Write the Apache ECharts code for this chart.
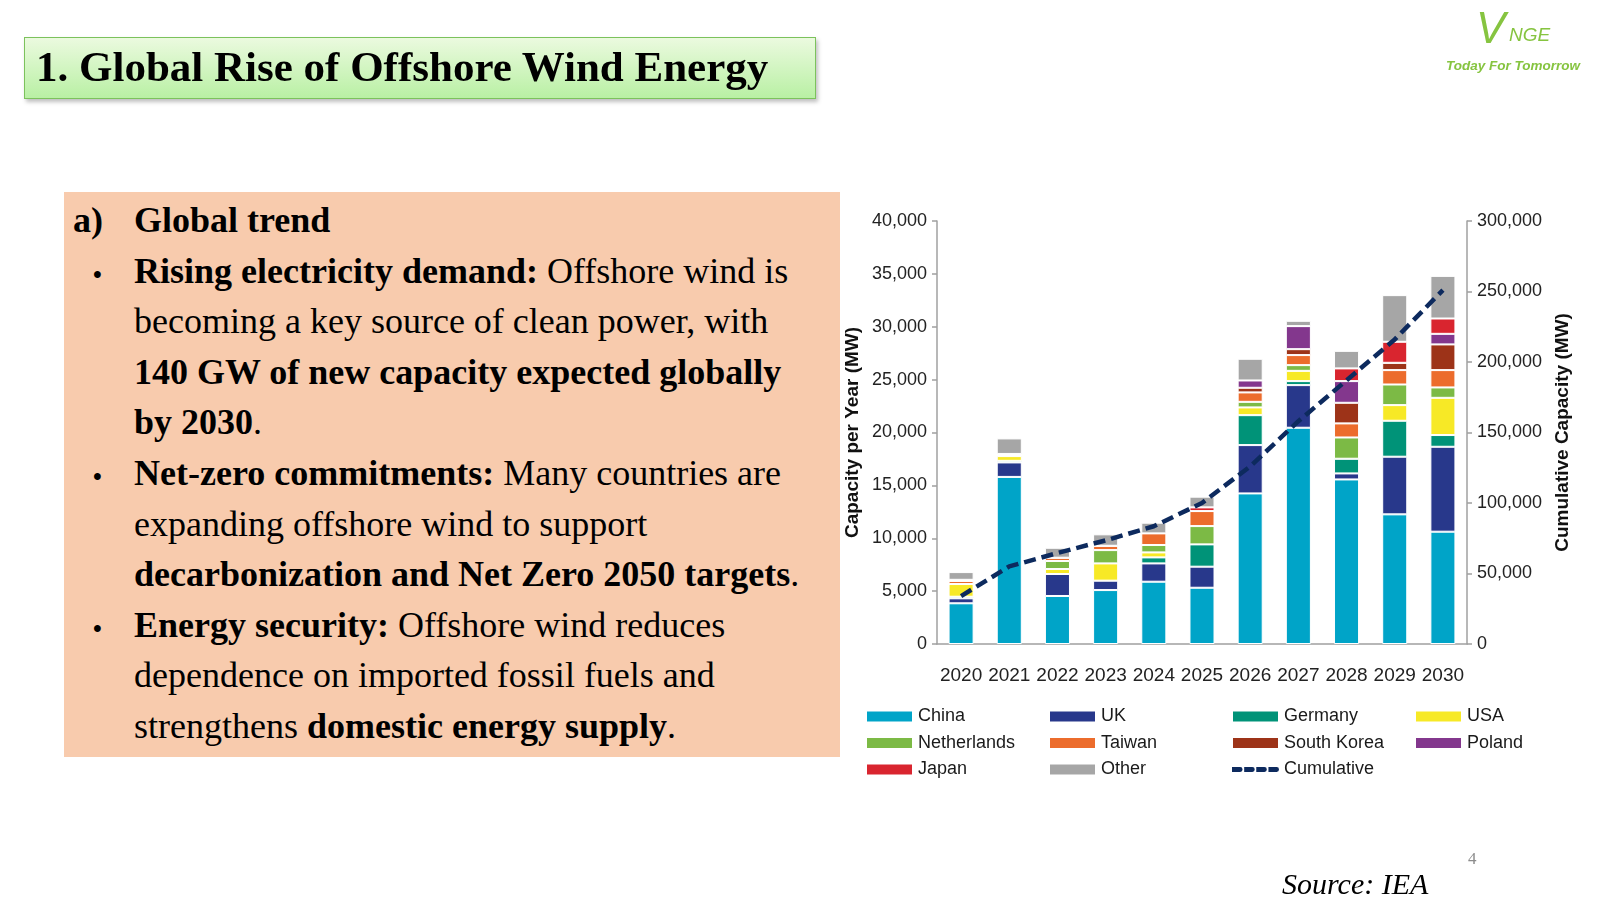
<!DOCTYPE html>
<html>
<head>
    <meta charset="utf-8">
    <title>Global Rise of Offshore Wind Energy</title>
    <script src="https://cdn.jsdelivr.net/npm/echarts@6/dist/echarts.min.js"></script>
    <style>
        *{
            padding: 0;
            margin: 0;
        }
        body{
            width: 1600px;
            height: 900px;
            background: #fff;
            position: relative;
            overflow: hidden;
            font-family: 'Liberation Serif', 'Times New Roman', serif;
        }
        #chart{
            position: absolute;
            left: 0;
            top: 0;
            width: 1600px;
            height: 900px;
        }
        #title{
            position: absolute;
            left: 24px;
            top: 37px;
            width: 790px;
            height: 60px;
            border: 1px solid #7cc25c;
            background: linear-gradient(#ebfadf, #b9f0a4);
            box-shadow: 2px 3px 4px rgba(0,0,0,0.25);
            z-index: 2;
        }
        #title span{
            position: absolute;
            left: 11px;
            top: 4px;
            font-size: 43px;
            font-weight: bold;
            line-height: 50px;
            white-space: nowrap;
        }
        #panel{
            position: absolute;
            left: 64px;
            top: 192px;
            width: 776px;
            height: 565px;
            background: #f8cbad;
            z-index: 1;
        }
        .ln{
            position: absolute;
            left: 134px;
            font-size: 36px;
            line-height: 50px;
            white-space: nowrap;
            z-index: 2;
        }
        .bul{
            position: absolute;
            left: 93px;
            font-size: 25px;
            font-weight: bold;
            line-height: 50px;
            z-index: 2;
        }
        #logo{
            position: absolute;
            left: 1446px;
            top: 4px;
            width: 150px;
            color: #86c440;
            font-family: 'Liberation Sans', Arial, sans-serif;
            font-style: italic;
            z-index: 2;
        }
        #page{
            position: absolute;
            left: 1468px;
            top: 849px;
            font-size: 17px;
            color: #8c8c8c;
            z-index: 2;
        }
        #source{
            position: absolute;
            left: 1282px;
            top: 867px;
            font-size: 30px;
            font-style: italic;
            white-space: nowrap;
            z-index: 2;
        }
    </style>
</head>
<body>
    <div id="chart"></div>
    <div id="title"><span>1. Global Rise of Offshore Wind Energy</span></div>
    <div id="panel"></div>
    <div class="ln" style="left:73px;top:195px"><b>a)</b></div>
    <div class="ln" style="top:195px"><b>Global trend</b></div>
    <div class="bul" style="top:250px">&#8226;</div>
    <div class="ln" style="top:245.6px"><b>Rising electricity demand:</b> Offshore wind is</div>
    <div class="ln" style="top:296.2px">becoming a key source of clean power, with</div>
    <div class="ln" style="top:346.8px"><b>140 GW of new capacity expected globally</b></div>
    <div class="ln" style="top:397.4px"><b>by 2030</b>.</div>
    <div class="bul" style="top:452px">&#8226;</div>
    <div class="ln" style="top:448px"><b>Net-zero commitments:</b> Many countries are</div>
    <div class="ln" style="top:498.6px">expanding offshore wind to support</div>
    <div class="ln" style="top:549.2px"><b>decarbonization and Net Zero 2050 targets</b>.</div>
    <div class="bul" style="top:604px">&#8226;</div>
    <div class="ln" style="top:599.8px"><b>Energy security:</b> Offshore wind reduces</div>
    <div class="ln" style="top:650.4px">dependence on imported fossil fuels and</div>
    <div class="ln" style="top:701px">strengthens <b>domestic energy supply</b>.</div>
    <div id="logo">
        <div style="position:absolute;left:30px;top:2px;font-size:44px;line-height:44px;">V</div>
        <div style="position:absolute;left:63px;top:20px;font-size:19px;line-height:22px;">NGE</div>
        <div style="position:absolute;left:0;top:54px;font-size:13.5px;font-weight:bold;white-space:nowrap;">Today For Tomorrow</div>
    </div>
    <div id="page">4</div>
    <div id="source">Source: IEA</div>
</body>
<script>
    // categories and values (MW)
    var years = ['2020','2021','2022','2023','2024','2025','2026','2027','2028','2029','2030'];
    var china       = [3850, 15800, 4540, 5100, 5890, 5320, 14240, 20450, 15560, 12260, 10620];
    var uk          = [470, 1370, 2080, 890, 1730, 1990, 4570, 4030, 570, 5450, 8030];
    var germany     = [150, 150, 0, 0, 570, 2110, 2830, 380, 1390, 3400, 1110];
    var usa         = [1200, 450, 470, 1630, 470, 0, 730, 970, 0, 1480, 3520];
    var netherlands = [0, 100, 760, 1260, 700, 1730, 530, 540, 2010, 1950, 980];
    var taiwan      = [300, 100, 310, 410, 1100, 1420, 890, 950, 1330, 1360, 1640];
    var southKorea  = [0, 0, 0, 0, 0, 0, 440, 560, 1950, 690, 2430];
    var poland      = [0, 0, 0, 0, 0, 0, 690, 2180, 2050, 0, 1000];
    var japan       = [100, 0, 0, 0, 0, 350, 0, 0, 1200, 1990, 1450];
    var other       = [730, 1470, 940, 1080, 1010, 1010, 2050, 500, 1660, 4410, 4030];
    var cumulative  = [34000, 55000, 64500, 73500, 83500, 100000, 126000, 158000, 187000, 216000, 251000];

    var leftTicks = [0, 40000, 5000];     // min, max, interval
    var rightTicks = [0, 300000, 50000];

    var sans = "'Liberation Sans', Arial, sans-serif";
    // four short dashes; the two zero-length moves pin the box to 47x12
    var dashIcon = 'path://M0,0L0.1,0M0,12L0.1,12M0,3.5h8.5a2.5,2.5,0,0,1,0,5h-8.5zM12.7,3.5h8.5a2.5,2.5,0,0,1,0,5h-8.5zM25.3,3.5h8.5a2.5,2.5,0,0,1,0,5h-8.5zM38,3.5h8.5a2.5,2.5,0,0,1,0,5h-8.5z';

    function fmt(v){
        return v.toLocaleString('en-US');
    }

    function barSeries(name, data, color){
        return {
            name: name,
            type: 'bar',
            stack: 'cap',
            data: data,
            barWidth: '52%',
            itemStyle: {color: color, borderColor: '#fff', borderWidth: 1}
        };
    }

    function legendCol(left, names){
        return {
            orient: 'vertical',
            left: left,
            top: 706,
            padding: 0,
            itemWidth: 47,
            itemHeight: 12,
            itemGap: 5.5,
            selectedMode: false,
            textStyle: {fontFamily: sans, fontSize: 18, color: '#1a1a1a', lineHeight: 21},
            data: names.map(function(n){
                return {name: n, icon: n == 'Cumulative' ? dashIcon : 'rect'};
            })
        };
    }

    function valueAxis(ticks, pos, name, gap){
        return {
            type: 'value',
            position: pos,
            min: ticks[0], max: ticks[1], interval: ticks[2],
            name: name,
            nameLocation: 'middle',
            nameGap: gap,
            nameRotate: 90,
            nameTextStyle: {fontFamily: sans, fontWeight: 'bold', fontSize: 19, color: '#111'},
            splitLine: {show: false},
            axisLine: {show: true, lineStyle: {color: '#a0a0a0', width: 1.5}},
            axisTick: {show: true, length: 5, lineStyle: {color: '#a0a0a0', width: 1.5}},
            axisLabel: {fontFamily: sans, fontSize: 18, color: '#222', margin: 10, formatter: fmt}
        };
    }

    var myChart = echarts.init(document.getElementById('chart'));
    myChart.setOption({
        animation: false,
        grid: {left: 937, top: 221, width: 530, height: 423},
        legend: [
            legendCol(865, ['China', 'Netherlands', 'Japan']),
            legendCol(1048, ['UK', 'Taiwan', 'Other']),
            legendCol(1231, ['Germany', 'South Korea', 'Cumulative']),
            legendCol(1414, ['USA', 'Poland'])
        ],
        xAxis: {
            type: 'category',
            data: years,
            axisLine: {lineStyle: {color: '#a0a0a0', width: 1.5}},
            axisTick: {length: 7, lineStyle: {color: '#a0a0a0', width: 1.5}},
            axisLabel: {fontFamily: sans, fontSize: 19, color: '#222', margin: 22, interval: 0}
        },
        yAxis: [
            valueAxis(leftTicks, 'left', 'Capacity per Year (MW)', 75),
            valueAxis(rightTicks, 'right', 'Cumulative Capacity (MW)', 86)
        ],
        series: [
            barSeries('China', china, '#00a4c8'),
            barSeries('UK', uk, '#28388b'),
            barSeries('Germany', germany, '#009378'),
            barSeries('USA', usa, '#f7e926'),
            barSeries('Netherlands', netherlands, '#7cba45'),
            barSeries('Taiwan', taiwan, '#ec6c2c'),
            barSeries('South Korea', southKorea, '#9d3318'),
            barSeries('Poland', poland, '#83378d'),
            barSeries('Japan', japan, '#d9252f'),
            barSeries('Other', other, '#a6a6a6'),
            {
                name: 'Cumulative',
                type: 'line',
                yAxisIndex: 1,
                data: cumulative,
                symbol: 'none',
                z: 5,
                lineStyle: {color: '#0d2a5e', width: 4.5, type: [12, 6]},
                itemStyle: {color: '#0d2a5e'}
            }
        ]
    });
</script>
</html>
